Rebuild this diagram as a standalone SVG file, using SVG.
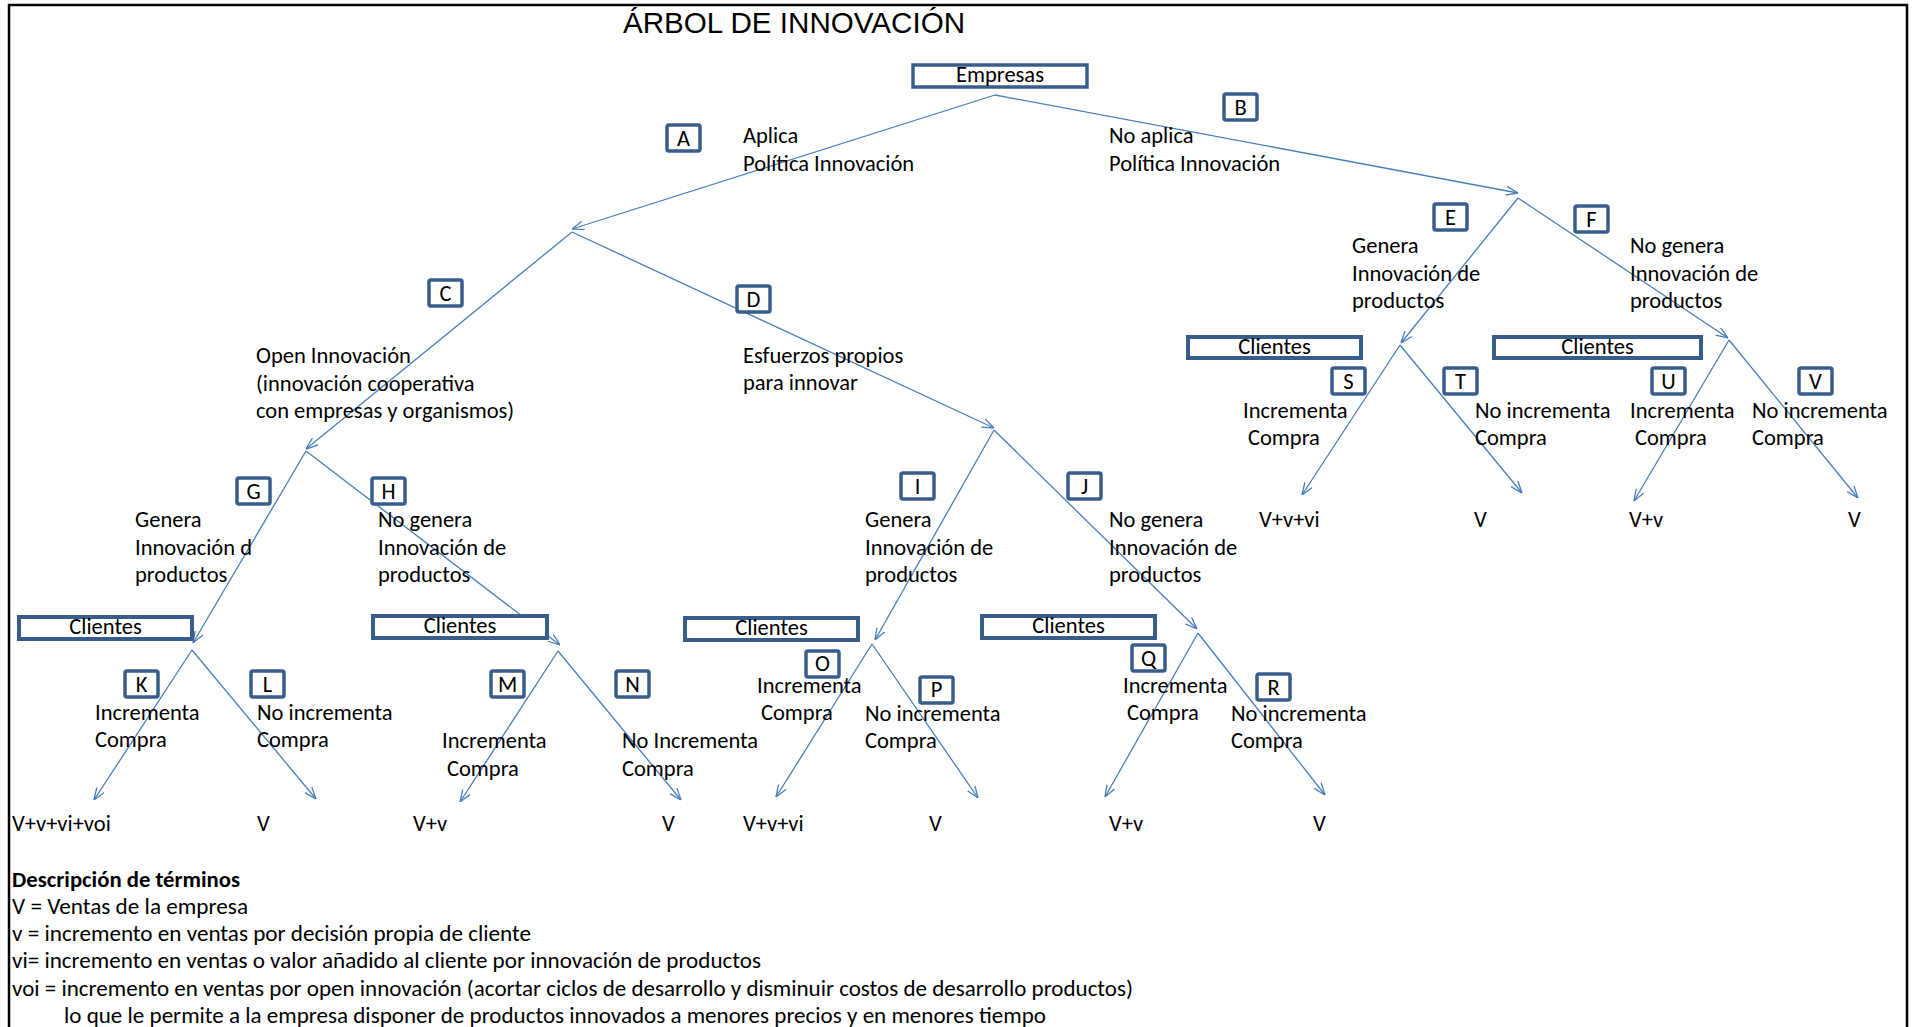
<svg xmlns="http://www.w3.org/2000/svg" width="1919" height="1027" viewBox="0 0 1919 1027">
<style>
.t{font-family:Carlito,Lato,"Open Sans",sans-serif;font-size:22.5px;fill:#000}
.c{text-anchor:middle}
.b{font-weight:bold}
.title{font-family:"Liberation Sans",Arial,sans-serif;font-size:29.6px;fill:#000}
.bx{fill:#fff;stroke:#385D8A;stroke-width:3.5}
.cl{fill:#fff;stroke:#385D8A;stroke-width:4}
.ln{stroke:#4A7EBB;stroke-width:1.3;fill:none;marker-end:url(#ar)}
.fr{stroke:#000;stroke-width:2.5;fill:none}
</style>
<defs>
<marker id="ar" viewBox="0 0 12 10" refX="12" refY="5" markerWidth="12" markerHeight="10" markerUnits="userSpaceOnUse" orient="auto">
<path d="M0,0.5 L12,5 L0,9.5" fill="none" stroke="#4A7EBB" stroke-width="1.3"/>
</marker>
</defs>
<rect width="1919" height="1027" fill="#fff"/>
<g id="frame">
<path class="fr" d="M9,1027 V5 H1907 V1027"/>
</g>
<text class="title" x="623" y="33">ÁRBOL DE INNOVACIÓN</text>

<g id="connectors">
<line class="ln" x1="995" y1="95" x2="572" y2="229"/>
<line class="ln" x1="995" y1="95" x2="1518" y2="193"/>
<line class="ln" x1="572" y1="232" x2="306" y2="449"/>
<line class="ln" x1="572" y1="232" x2="994" y2="428"/>
<line class="ln" x1="306" y1="451" x2="193" y2="643"/>
<line class="ln" x1="306" y1="451" x2="560" y2="645"/>
<line class="ln" x1="994" y1="430" x2="875" y2="640"/>
<line class="ln" x1="994" y1="430" x2="1197" y2="629"/>
<line class="ln" x1="1518" y1="198" x2="1401" y2="343"/>
<line class="ln" x1="1518" y1="198" x2="1728" y2="338"/>
<line class="ln" x1="192" y1="650" x2="94" y2="800"/>
<line class="ln" x1="192" y1="650" x2="316" y2="799"/>
<line class="ln" x1="558" y1="651" x2="460" y2="802"/>
<line class="ln" x1="558" y1="651" x2="681" y2="800"/>
<line class="ln" x1="872" y1="644" x2="776" y2="797"/>
<line class="ln" x1="872" y1="644" x2="978" y2="798"/>
<line class="ln" x1="1198" y1="633" x2="1105" y2="797"/>
<line class="ln" x1="1198" y1="633" x2="1325" y2="795"/>
<line class="ln" x1="1400" y1="345" x2="1302" y2="495"/>
<line class="ln" x1="1400" y1="345" x2="1522" y2="493"/>
<line class="ln" x1="1729" y1="340" x2="1634" y2="501"/>
<line class="ln" x1="1729" y1="340" x2="1858" y2="498"/>
</g>

<g id="empresas">
<rect class="bx" x="913" y="65" width="174" height="22"/>
<text class="t c" x="1000" y="82">Empresas</text>
</g>

<g id="nodeA">
<rect class="bx" x="667" y="125" width="33" height="26" rx="2"/>
<text class="t c" x="683.5" y="146">A</text>
<text class="t" x="743" y="143">Aplica</text>
<text class="t" x="743" y="171">Política Innovación</text>
</g>
<g id="nodeB">
<rect class="bx" x="1224" y="94" width="33" height="26" rx="2"/>
<text class="t c" x="1240.5" y="115">B</text>
<text class="t" x="1109" y="143">No aplica</text>
<text class="t" x="1109" y="171">Política Innovación</text>
</g>
<g id="nodeC">
<rect class="bx" x="429" y="280" width="33" height="26" rx="2"/>
<text class="t c" x="445.5" y="301">C</text>
<text class="t" x="256" y="363">Open Innovación</text>
<text class="t" x="256" y="391">(innovación cooperativa</text>
<text class="t" x="256" y="418">con empresas y organismos)</text>
</g>
<g id="nodeD">
<rect class="bx" x="737" y="286" width="33" height="26" rx="2"/>
<text class="t c" x="753.5" y="307">D</text>
<text class="t" x="743" y="363">Esfuerzos propios</text>
<text class="t" x="743" y="390">para innovar</text>
</g>
<g id="nodeE">
<rect class="bx" x="1434" y="204" width="33" height="26" rx="2"/>
<text class="t c" x="1450.5" y="225">E</text>
<text class="t" x="1352" y="253">Genera</text>
<text class="t" x="1352" y="281">Innovación de</text>
<text class="t" x="1352" y="308">productos</text>
</g>
<g id="nodeF">
<rect class="bx" x="1575" y="206" width="33" height="26" rx="2"/>
<text class="t c" x="1591.5" y="227">F</text>
<text class="t" x="1630" y="253">No genera</text>
<text class="t" x="1630" y="281">Innovación de</text>
<text class="t" x="1630" y="308">productos</text>
</g>
<g id="nodeG">
<rect class="bx" x="237" y="478" width="33" height="26" rx="2"/>
<text class="t c" x="253.5" y="499">G</text>
<text class="t" x="135" y="527">Genera</text>
<text class="t" x="135" y="555">Innovación d</text>
<text class="t" x="135" y="582">productos</text>
</g>
<g id="nodeH">
<rect class="bx" x="372" y="478" width="33" height="26" rx="2"/>
<text class="t c" x="388.5" y="499">H</text>
<text class="t" x="378" y="527">No genera</text>
<text class="t" x="378" y="555">Innovación de</text>
<text class="t" x="378" y="582">productos</text>
</g>
<g id="nodeI">
<rect class="bx" x="901" y="473" width="33" height="26" rx="2"/>
<text class="t c" x="917.5" y="494">I</text>
<text class="t" x="865" y="527">Genera</text>
<text class="t" x="865" y="555">Innovación de</text>
<text class="t" x="865" y="582">productos</text>
</g>
<g id="nodeJ">
<rect class="bx" x="1068" y="473" width="33" height="26" rx="2"/>
<text class="t c" x="1084.5" y="494">J</text>
<text class="t" x="1109" y="527">No genera</text>
<text class="t" x="1109" y="555">Innovación de</text>
<text class="t" x="1109" y="582">productos</text>
</g>

<g id="clientes1"><rect class="cl" x="19" y="617" width="173" height="22"/><text class="t c" x="105.5" y="634">Clientes</text></g>
<g id="clientes2"><rect class="cl" x="373" y="616" width="174" height="22"/><text class="t c" x="460" y="633">Clientes</text></g>
<g id="clientes3"><rect class="cl" x="685" y="618" width="173" height="22"/><text class="t c" x="771.5" y="635">Clientes</text></g>
<g id="clientes4"><rect class="cl" x="982" y="616" width="173" height="22"/><text class="t c" x="1068.5" y="633">Clientes</text></g>
<g id="clientes5"><rect class="cl" x="1188" y="337" width="173" height="21"/><text class="t c" x="1274.5" y="354">Clientes</text></g>
<g id="clientes6"><rect class="cl" x="1494" y="337" width="207" height="21"/><text class="t c" x="1597.5" y="354">Clientes</text></g>

<g id="nodeK">
<rect class="bx" x="125" y="671" width="33" height="26" rx="2"/>
<text class="t c" x="141.5" y="692">K</text>
<text class="t" x="95" y="720">Incrementa</text>
<text class="t" x="95" y="747">Compra</text>
</g>
<g id="nodeL">
<rect class="bx" x="251" y="671" width="33" height="26" rx="2"/>
<text class="t c" x="267.5" y="692">L</text>
<text class="t" x="257" y="720">No incrementa</text>
<text class="t" x="257" y="747">Compra</text>
</g>
<g id="nodeM">
<rect class="bx" x="491" y="671" width="33" height="26" rx="2"/>
<text class="t c" x="507.5" y="692">M</text>
<text class="t" x="442" y="748">Incrementa</text>
<text class="t" x="447" y="776">Compra</text>
</g>
<g id="nodeN">
<rect class="bx" x="616" y="671" width="33" height="26" rx="2"/>
<text class="t c" x="632.5" y="692">N</text>
<text class="t" x="622" y="748">No Incrementa</text>
<text class="t" x="622" y="776">Compra</text>
</g>
<g id="nodeO">
<rect class="bx" x="806" y="651" width="33" height="26" rx="2"/>
<text class="t c" x="822.5" y="671">O</text>
<text class="t" x="757" y="693">Incrementa</text>
<text class="t" x="761" y="720">Compra</text>
</g>
<g id="nodeP">
<rect class="bx" x="920" y="677" width="33" height="26" rx="2"/>
<text class="t c" x="936.5" y="697">P</text>
<text class="t" x="865" y="721">No incrementa</text>
<text class="t" x="865" y="748">Compra</text>
</g>
<g id="nodeQ">
<rect class="bx" x="1132" y="645" width="33" height="26" rx="2"/>
<text class="t c" x="1148.5" y="666">Q</text>
<text class="t" x="1123" y="693">Incrementa</text>
<text class="t" x="1127" y="720">Compra</text>
</g>
<g id="nodeR">
<rect class="bx" x="1257" y="674" width="33" height="26" rx="2"/>
<text class="t c" x="1273.5" y="695">R</text>
<text class="t" x="1231" y="721">No incrementa</text>
<text class="t" x="1231" y="748">Compra</text>
</g>
<g id="nodeS">
<rect class="bx" x="1332" y="368" width="33" height="26" rx="2"/>
<text class="t c" x="1348.5" y="389">S</text>
<text class="t" x="1243" y="418">Incrementa</text>
<text class="t" x="1248" y="445">Compra</text>
</g>
<g id="nodeT">
<rect class="bx" x="1444" y="368" width="33" height="26" rx="2"/>
<text class="t c" x="1460.5" y="389">T</text>
<text class="t" x="1475" y="418">No incrementa</text>
<text class="t" x="1475" y="445">Compra</text>
</g>
<g id="nodeU">
<rect class="bx" x="1652" y="368" width="33" height="26" rx="2"/>
<text class="t c" x="1668.5" y="389">U</text>
<text class="t" x="1630" y="418">Incrementa</text>
<text class="t" x="1635" y="445">Compra</text>
</g>
<g id="nodeV">
<rect class="bx" x="1799" y="368" width="33" height="26" rx="2"/>
<text class="t c" x="1815.5" y="389">V</text>
<text class="t" x="1752" y="418">No incrementa</text>
<text class="t" x="1752" y="445">Compra</text>
</g>

<g id="outcomes">
<text class="t" x="12" y="831">V+v+vi+voi</text>
<text class="t" x="257" y="831">V</text>
<text class="t" x="413" y="831">V+v</text>
<text class="t" x="662" y="831">V</text>
<text class="t" x="743" y="831">V+v+vi</text>
<text class="t" x="929" y="831">V</text>
<text class="t" x="1109" y="831">V+v</text>
<text class="t" x="1313" y="831">V</text>
<text class="t" x="1259" y="527">V+v+vi</text>
<text class="t" x="1474" y="527">V</text>
<text class="t" x="1629" y="527">V+v</text>
<text class="t" x="1848" y="527">V</text>
</g>

<g id="legend">
<text class="t b" x="12" y="887" textLength="228" lengthAdjust="spacingAndGlyphs">Descripción de términos</text>
<text class="t" x="12" y="914" textLength="236" lengthAdjust="spacingAndGlyphs">V = Ventas de la empresa</text>
<text class="t" x="12" y="941" textLength="519" lengthAdjust="spacingAndGlyphs">v = incremento en ventas por decisión propia de cliente</text>
<text class="t" x="12" y="968" textLength="749" lengthAdjust="spacingAndGlyphs">vi= incremento en ventas o valor añadido al cliente por innovación de productos</text>
<text class="t" x="12" y="996" textLength="1121" lengthAdjust="spacingAndGlyphs">voi = incremento en ventas por open innovación (acortar ciclos de desarrollo y disminuir costos de desarrollo productos)</text>
<text class="t" x="64" y="1023" textLength="982" lengthAdjust="spacingAndGlyphs">lo que le permite a la empresa disponer de productos innovados a menores precios y en menores tiempo</text>
</g>
</svg>
